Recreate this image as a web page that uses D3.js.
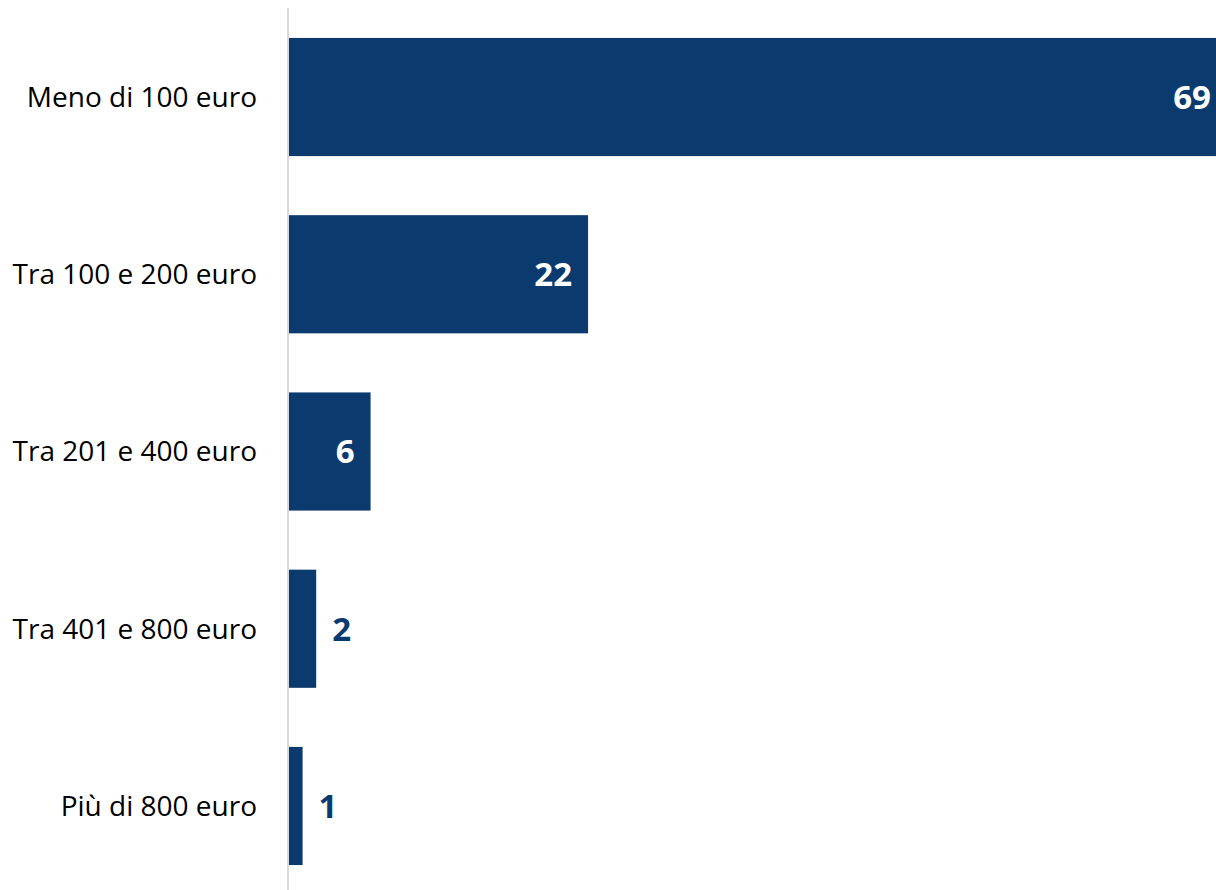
<!DOCTYPE html>
<html>
<head>
<meta charset="utf-8">
<script src="https://cdn.jsdelivr.net/npm/d3@7"></script>
<style>
  html, body { margin: 0; padding: 0; background: #fff; }
  svg { display: block; }
</style>
</head>
<body>
<svg id="chart" width="1216" height="890"></svg>
<script>
// Spending brackets and share of respondents (%)
const categories = ["Meno di 100 euro", "Tra 100 e 200 euro", "Tra 201 e 400 euro", "Tra 401 e 800 euro", "Più di 800 euro"];
const values = [69, 22, 6, 2, 1];

const W = 1216, H = 890;
const barColor = "#0b3b6e";
const font = "Open Sans, Noto Sans, sans-serif";

const svg = d3.select("#chart");

const x = d3.scaleLinear().domain([0, 69]).range([289, 1227]);
const y = d3.scaleBand().domain(categories).range([8.4, 894.6])
  .paddingInner(1 / 3).paddingOuter(1 / 6);

const data = categories.map((c, i) => ({ cat: c, val: values[i] }));

// Bars
svg.append("g").selectAll("rect").data(data).join("rect")
  .attr("x", x(0))
  .attr("y", d => y(d.cat))
  .attr("width", d => x(d.val) - x(0))
  .attr("height", y.bandwidth())
  .attr("fill", barColor);

// Vertical category axis line
svg.append("line")
  .attr("x1", 288).attr("x2", 288)
  .attr("y1", 8).attr("y2", H)
  .attr("stroke", "#d9d9d9").attr("stroke-width", 2);

// Category labels
svg.append("g").selectAll("text").data(data).join("text")
  .attr("x", 257)
  .attr("y", d => y(d.cat) + y.bandwidth() / 2)
  .attr("dy", "0.35em")
  .attr("text-anchor", "end")
  .attr("font-family", font)
  .attr("font-size", 28)
  .attr("fill", "#000")
  .text(d => d.cat);

// Value labels: inside the bar when there is room, otherwise just past its end
const inside = d => x(d.val) - x(0) > 60;
svg.append("g").selectAll("text").data(data).join("text")
  .attr("x", d => inside(d) ? x(d.val) - 16 : x(d.val) + 16)
  .attr("y", d => y(d.cat) + y.bandwidth() / 2)
  .attr("dy", "0.36em")
  .attr("text-anchor", d => inside(d) ? "end" : "start")
  .attr("font-family", font)
  .attr("font-weight", "bold")
  .attr("font-size", 33)
  .attr("fill", d => inside(d) ? "#fff" : barColor)
  .text(d => d.val);
</script>
</body>
</html>
